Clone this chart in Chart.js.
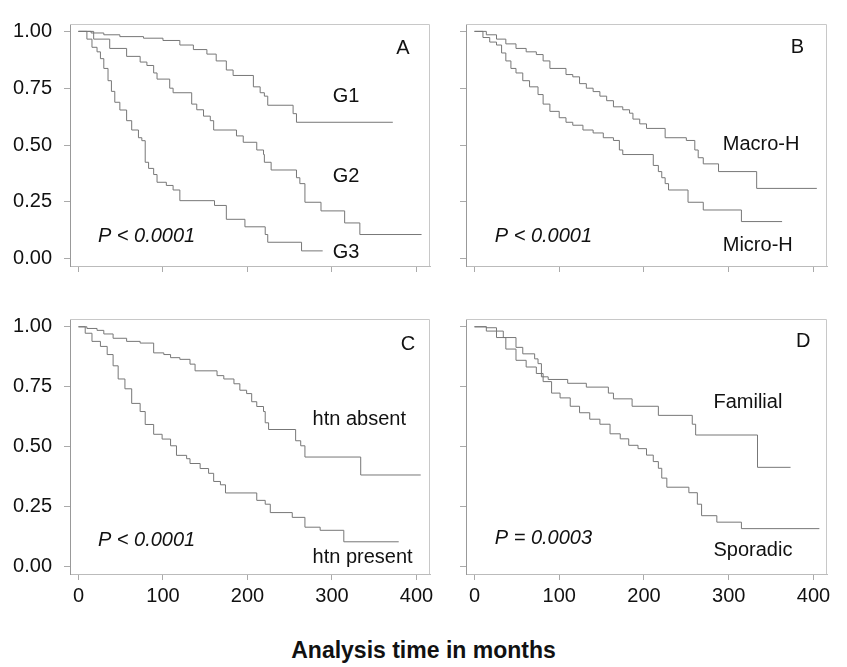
<!DOCTYPE html>
<html>
<head>
<meta charset="utf-8">
<script src="https://cdn.jsdelivr.net/npm/chart.js@4"></script>
<style>
  body { margin: 0; background: #fff; }
  #wrap { position: relative; width: 847px; height: 667px; }
  canvas { position: absolute; }
  #xtitle {
    position: absolute; left: 0; width: 847px; top: 637px;
    text-align: center; font: bold 23px "Liberation Sans", Arial, sans-serif; color: #111;
  }
</style>
</head>
<body>
<div id="wrap">
  <canvas id="pA" width="440" height="290" style="left:0;top:0"></canvas>
  <canvas id="pB" width="407" height="290" style="left:440px;top:0"></canvas>
  <canvas id="pC" width="440" height="330" style="left:0;top:295px"></canvas>
  <canvas id="pD" width="407" height="330" style="left:440px;top:295px"></canvas>
  <div id="xtitle">Analysis time in months</div>
</div>
<script>
const xTicks = [0, 100, 200, 300, 400];
const yTicks = [0, 0.25, 0.5, 0.75, 1];

// A - grade
const g1Time = [0, 15, 30, 49, 77, 100, 120, 136, 152, 163, 175, 183, 207, 215, 220, 224, 254, 258, 372];
const g1Surv = [1, 0.993, 0.985, 0.977, 0.97, 0.96, 0.94, 0.92, 0.90, 0.87, 0.83, 0.806, 0.756, 0.73, 0.715, 0.675, 0.638, 0.60, 0.60];
const g2Time = [0, 18, 37, 57, 73, 81, 89, 93, 108, 112, 134, 140, 148, 156, 160, 187, 195, 211, 219, 220, 228, 258, 262, 268, 287, 315, 333, 406];
const g2Surv = [1, 0.966, 0.925, 0.89, 0.865, 0.85, 0.817, 0.79, 0.75, 0.73, 0.68, 0.655, 0.627, 0.607, 0.566, 0.54, 0.512, 0.478, 0.458, 0.424, 0.39, 0.356, 0.33, 0.248, 0.21, 0.157, 0.106, 0.106];
const g3Time = [0, 10, 16, 22, 26, 30, 35, 39, 43, 49, 57, 63, 71, 75, 79, 83, 89, 93, 104, 112, 120, 161, 175, 197, 221, 224, 264, 289];
const g3Surv = [1, 0.966, 0.93, 0.91, 0.88, 0.837, 0.783, 0.736, 0.688, 0.654, 0.607, 0.566, 0.532, 0.519, 0.424, 0.397, 0.37, 0.336, 0.322, 0.302, 0.255, 0.234, 0.173, 0.14, 0.106, 0.072, 0.034, 0.034];

// B - haematuria
const macroTime = [0, 14, 26, 37, 49, 61, 73, 81, 89, 108, 116, 124, 132, 140, 148, 156, 164, 175, 183, 187, 195, 203, 225, 250, 260, 264, 270, 288, 333, 404];
const macroSurv = [1, 0.985, 0.966, 0.945, 0.925, 0.91, 0.898, 0.87, 0.837, 0.81, 0.80, 0.77, 0.75, 0.735, 0.715, 0.695, 0.668, 0.655, 0.64, 0.614, 0.593, 0.573, 0.532, 0.52, 0.478, 0.444, 0.417, 0.383, 0.309, 0.309];
const microTime = [0, 10, 18, 26, 32, 37, 43, 49, 57, 65, 75, 81, 89, 100, 108, 116, 128, 140, 152, 164, 171, 175, 211, 217, 221, 225, 229, 252, 270, 315, 363];
const microSurv = [1, 0.973, 0.953, 0.94, 0.905, 0.87, 0.837, 0.817, 0.783, 0.756, 0.722, 0.68, 0.648, 0.62, 0.60, 0.587, 0.566, 0.553, 0.532, 0.52, 0.478, 0.458, 0.41, 0.383, 0.356, 0.33, 0.302, 0.248, 0.214, 0.163, 0.163];

// C - hypertension
const htnAbsTime = [0, 10, 22, 30, 41, 57, 73, 89, 101, 109, 120, 132, 138, 164, 172, 184, 191, 199, 205, 211, 219, 221, 225, 257, 263, 268, 334, 405];
const htnAbsSurv = [1, 0.993, 0.985, 0.97, 0.952, 0.939, 0.932, 0.891, 0.884, 0.871, 0.864, 0.844, 0.816, 0.796, 0.782, 0.762, 0.735, 0.721, 0.687, 0.667, 0.646, 0.599, 0.571, 0.524, 0.503, 0.456, 0.381, 0.381];
const htnPresTime = [0, 8, 16, 26, 34, 41, 47, 55, 63, 73, 79, 89, 99, 109, 116, 128, 132, 144, 154, 160, 168, 174, 211, 221, 227, 253, 268, 286, 314, 379];
const htnPresSurv = [1, 0.973, 0.939, 0.918, 0.884, 0.837, 0.782, 0.741, 0.68, 0.646, 0.592, 0.551, 0.531, 0.503, 0.463, 0.449, 0.429, 0.408, 0.388, 0.354, 0.34, 0.306, 0.275, 0.259, 0.224, 0.204, 0.163, 0.15, 0.102, 0.102];

// D - family history
const famTime = [0, 14, 26, 34, 49, 57, 71, 75, 79, 87, 110, 132, 158, 164, 186, 217, 257, 261, 334, 373];
const famSurv = [1, 0.996, 0.982, 0.955, 0.914, 0.887, 0.866, 0.846, 0.791, 0.78, 0.764, 0.748, 0.723, 0.699, 0.668, 0.63, 0.593, 0.548, 0.413, 0.413];
const sporTime = [0, 14, 26, 37, 49, 61, 73, 81, 91, 101, 113, 124, 136, 148, 160, 172, 182, 193, 203, 211, 217, 221, 227, 253, 263, 268, 286, 315, 407];
const sporSurv = [1, 0.982, 0.955, 0.907, 0.86, 0.832, 0.805, 0.771, 0.723, 0.703, 0.668, 0.641, 0.614, 0.593, 0.553, 0.532, 0.505, 0.491, 0.464, 0.437, 0.409, 0.368, 0.33, 0.307, 0.259, 0.211, 0.184, 0.157, 0.157];

const FONT = '"Liberation Sans", Arial, sans-serif';

// text inside each panel, placed in data units
const panelTextPlugin = {
  id: 'panelText',
  afterDraw(chart, args, opts) {
    const ctx = chart.ctx;
    const xs = chart.scales.x, ys = chart.scales.y;
    ctx.save();
    ctx.fillStyle = '#111';
    ctx.textBaseline = 'middle';
    (opts.items || []).forEach(it => {
      ctx.font = (it.italic ? 'italic ' : '') + '20px ' + FONT;
      ctx.textAlign = it.align || 'left';
      ctx.fillText(it.text, xs.getPixelForValue(it.x), ys.getPixelForValue(it.y));
    });
    // plot region outline (top and right)
    const a = chart.chartArea;
    ctx.strokeStyle = '#c8c8c8';
    ctx.lineWidth = 1;
    ctx.beginPath();
    ctx.moveTo(a.left, a.top + 0.5);
    ctx.lineTo(a.right - 0.5, a.top + 0.5);
    ctx.lineTo(a.right - 0.5, a.bottom);
    ctx.stroke();
    ctx.restore();
  }
};

function kmData(times, surv) {
  return times.map((t, i) => ({ x: t, y: surv[i] }));
}

function makePanel(id, curves, items, o) {
  new Chart(document.getElementById(id), {
    type: 'line',
    data: {
      datasets: curves.map(c => ({
        data: kmData(c[0], c[1]),
        stepped: 'before',
        borderColor: '#777',
        borderWidth: 1,
        pointRadius: 0,
        fill: false
      }))
    },
    options: {
      responsive: false,
      animation: false,
      devicePixelRatio: 1,
      layout: { padding: { top: o.padTop, right: o.padRight, left: 0, bottom: 0 } },
      plugins: {
        legend: { display: false },
        tooltip: { enabled: false },
        panelText: { items: items }
      },
      scales: {
        x: {
          type: 'linear',
          min: -10,
          max: 416,
          afterBuildTicks: s => { s.ticks = xTicks.map(v => ({ value: v })); },
          afterFit: s => { s.height = o.xH; },
          grid: { drawOnChartArea: false, tickLength: 6, color: '#aaa' },
          border: { color: '#bbb' },
          ticks: {
            color: o.xLabels ? '#111' : 'rgba(0,0,0,0)',
            font: { family: FONT, size: 20 },
            padding: 4,
            maxRotation: 0
          }
        },
        y: {
          type: 'linear',
          min: -0.0325,
          max: 1.0325,
          afterBuildTicks: s => { s.ticks = yTicks.map(v => ({ value: v })); },
          afterFit: s => { s.width = o.yW; },
          grid: { drawOnChartArea: false, tickLength: 6, color: '#aaa' },
          border: { color: '#999' },
          ticks: {
            color: o.yLabels ? '#111' : 'rgba(0,0,0,0)',
            font: { family: FONT, size: 20 },
            padding: 12,
            callback: v => v.toFixed(2)
          }
        }
      }
    },
    plugins: [panelTextPlugin]
  });
}

makePanel('pA', [[g1Time, g1Surv], [g2Time, g2Surv], [g3Time, g3Surv]], [
  { text: 'G1', x: 301, y: 0.715 },
  { text: 'G2', x: 301, y: 0.36 },
  { text: 'G3', x: 301, y: 0.025 },
  { text: 'A', x: 384, y: 0.923, align: 'center' },
  { text: 'P < 0.0001', x: 23, y: 0.098, italic: true }
], { padTop: 10, padRight: 10, xH: 18, yW: 70, xLabels: false, yLabels: true });

makePanel('pB', [[macroTime, macroSurv], [microTime, microSurv]], [
  { text: 'Macro-H', x: 293, y: 0.504 },
  { text: 'Micro-H', x: 293, y: 0.057 },
  { text: 'B', x: 381, y: 0.93, align: 'center' },
  { text: 'P < 0.0001', x: 24, y: 0.098, italic: true }
], { padTop: 10, padRight: 20, xH: 18, yW: 26, xLabels: false, yLabels: false });

makePanel('pC', [[htnAbsTime, htnAbsSurv], [htnPresTime, htnPresSurv]], [
  { text: 'htn absent', x: 277, y: 0.614 },
  { text: 'htn present', x: 277, y: 0.037 },
  { text: 'C', x: 390, y: 0.927, align: 'center' },
  { text: 'P < 0.0001', x: 23, y: 0.106, italic: true }
], { padTop: 17, padRight: 10, xH: 51, yW: 70, xLabels: true, yLabels: true });

makePanel('pD', [[famTime, famSurv], [sporTime, sporSurv]], [
  { text: 'Familial', x: 282, y: 0.683 },
  { text: 'Sporadic', x: 282, y: 0.065 },
  { text: 'D', x: 388, y: 0.94, align: 'center' },
  { text: 'P = 0.0003', x: 24, y: 0.118, italic: true }
], { padTop: 17, padRight: 20, xH: 51, yW: 26, xLabels: true, yLabels: false });
</script>
</body>
</html>
